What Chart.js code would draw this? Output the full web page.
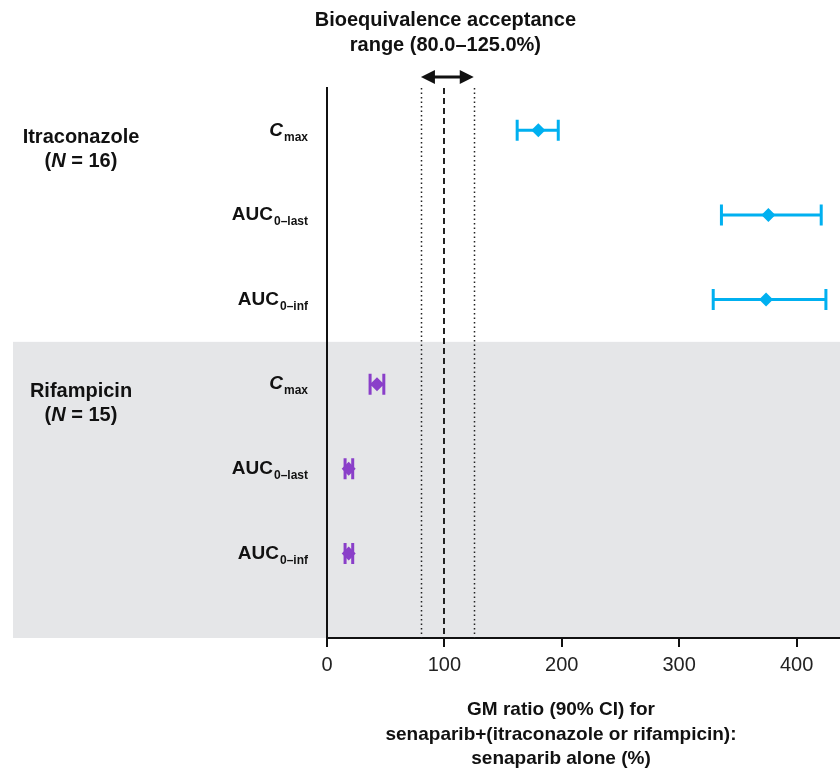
<!DOCTYPE html>
<html>
<head>
<meta charset="utf-8">
<script src="https://cdn.jsdelivr.net/npm/chart.js@4.4.1/dist/chart.umd.min.js"></script>
<style>
  html, body { margin: 0; padding: 0; background: #fff; }
  #wrap { width: 840px; height: 771px; position: relative; }
</style>
</head>
<body>
<div id="wrap"><canvas id="forest"></canvas></div>
<script>
// data
const groups = ["Itraconazole", "Rifampicin"];
const groupN = [16, 15];
const params = [
  { main: "C", sub: "max", italic: true },
  { main: "AUC", sub: "0\u2013last", italic: false },
  { main: "AUC", sub: "0\u2013inf", italic: false },
];
const itraRows = [0.5, 1.5, 2.5];
const itraGM = [180, 376, 374];
const itraLo = [162, 336, 329];
const itraHi = [197, 421, 425];
const rifRows = [3.5, 4.5, 5.5];
const rifGM = [42.6, 18.5, 18.5];
const rifLo = [36.7, 15.4, 15.4];
const rifHi = [48.4, 21.9, 21.9];
const xTicks = [0, 100, 200, 300, 400];
const beLimits = [80, 125];
const beRef = 100;
const xTitle = [
  "GM ratio (90% CI) for",
  "senaparib+(itraconazole or rifampicin):",
  "senaparib alone (%)",
];
const beTitle = ["Bioequivalence acceptance", "range (80.0\u2013125.0%)"];

const FONT = "'Liberation Sans', Arial, sans-serif";
const CYAN = "#00b0f0";
const PURPLE = "#8a3fc9";

function toPoints(rows, gm) {
  return rows.map((r, i) => ({ x: gm[i], y: r }));
}

// label with a subscript, right aligned at xRight
function drawSubLabel(ctx, xRight, y, p) {
  const mainFont = (p.italic ? "italic " : "") + "bold 19px " + FONT;
  const subFont = "bold 12px " + FONT;
  ctx.font = subFont;
  const ws = ctx.measureText(p.sub).width;
  ctx.font = mainFont;
  const wm = ctx.measureText(p.main).width;
  const gap = 1;
  const x0 = xRight - ws - gap - wm;
  ctx.textAlign = "left";
  ctx.textBaseline = "middle";
  ctx.fillText(p.main, x0, y);
  ctx.font = subFont;
  ctx.fillText(p.sub, x0 + wm + gap, y + 7);
}

const forestPlugin = {
  id: "forest",
  beforeDraw(chart) {
    const { ctx, chartArea, scales } = chart;
    const yb = scales.y.getPixelForValue(3);
    ctx.save();
    ctx.fillStyle = "#e5e6e8";
    ctx.fillRect(13, yb, chart.width - 13, chartArea.bottom - yb);
    ctx.restore();
  },
  beforeDatasetsDraw(chart) {
    const { ctx, chartArea, scales } = chart;
    const x = scales.x;
    ctx.save();
    // acceptance range lines
    ctx.strokeStyle = "#222";
    ctx.lineWidth = 1.5;
    ctx.setLineDash([1.5, 3]);
    beLimits.forEach(v => {
      const px = Math.round(x.getPixelForValue(v)) + 0.5;
      ctx.beginPath();
      ctx.moveTo(px, chartArea.top);
      ctx.lineTo(px, chartArea.bottom);
      ctx.stroke();
    });
    ctx.lineWidth = 2;
    ctx.setLineDash([6, 4]);
    const pr = Math.round(x.getPixelForValue(beRef));
    ctx.beginPath();
    ctx.moveTo(pr, chartArea.top);
    ctx.lineTo(pr, chartArea.bottom);
    ctx.stroke();
    ctx.setLineDash([]);

    // error bars
    chart.data.datasets.forEach(ds => {
      ctx.strokeStyle = ds.borderColor;
      ctx.lineWidth = 3;
      ds.data.forEach((pt, i) => {
        const py = scales.y.getPixelForValue(pt.y);
        const xl = x.getPixelForValue(ds.lo[i]);
        const xh = x.getPixelForValue(ds.hi[i]);
        ctx.beginPath();
        ctx.moveTo(xl, py);
        ctx.lineTo(xh, py);
        ctx.moveTo(xl, py - 10.5);
        ctx.lineTo(xl, py + 10.5);
        ctx.moveTo(xh, py - 10.5);
        ctx.lineTo(xh, py + 10.5);
        ctx.stroke();
      });
    });
    ctx.restore();
  },
  afterDraw(chart) {
    const { ctx, scales } = chart;
    const x = scales.x;
    const y = scales.y;
    ctx.save();
    ctx.fillStyle = "#111";

    // acceptance arrow
    const a1 = x.getPixelForValue(beLimits[0]);
    const a2 = x.getPixelForValue(beLimits[1]);
    const ay = 77;
    ctx.strokeStyle = "#111";
    ctx.lineWidth = 3;
    ctx.beginPath();
    ctx.moveTo(a1 + 8, ay);
    ctx.lineTo(a2 - 8, ay);
    ctx.stroke();
    [[a1, 1], [a2, -1]].forEach(([ax, d]) => {
      ctx.beginPath();
      ctx.moveTo(ax, ay);
      ctx.lineTo(ax + d * 14, ay - 7);
      ctx.lineTo(ax + d * 14, ay + 7);
      ctx.closePath();
      ctx.fill();
    });

    // titles
    ctx.font = "bold 20px " + FONT;
    ctx.textAlign = "center";
    ctx.textBaseline = "middle";
    const cx = x.getPixelForValue(beRef);
    ctx.fillText(beTitle[0], cx + 1, 20);
    ctx.fillText(beTitle[1], cx + 1, 45);
    ctx.font = "bold 19px " + FONT;
    xTitle.forEach((t, i) => ctx.fillText(t, 561, 710 + i * 24.5));

    // group labels
    const groupRows = [itraRows, rifRows];
    const gx = 81;
    groups.forEach((g, gi) => {
      const py = y.getPixelForValue(groupRows[gi][0]);
      ctx.font = "bold 20px " + FONT;
      ctx.textAlign = "center";
      ctx.fillText(g, gx, py + 7);
      // "(N = 16)" with italic N
      const pre = "(", nn = "N", post = " = " + groupN[gi] + ")";
      const w1 = ctx.measureText(pre).width;
      const w3 = ctx.measureText(post).width;
      ctx.font = "italic bold 20px " + FONT;
      const w2 = ctx.measureText(nn).width;
      const sx = gx - (w1 + w2 + w3) / 2;
      ctx.textAlign = "left";
      ctx.font = "bold 20px " + FONT;
      ctx.fillText(pre, sx, py + 31);
      ctx.font = "italic bold 20px " + FONT;
      ctx.fillText(nn, sx + w1, py + 31);
      ctx.font = "bold 20px " + FONT;
      ctx.fillText(post, sx + w1 + w2, py + 31);
    });

    // row labels
    const allRows = itraRows.concat(rifRows);
    allRows.forEach((r, i) => {
      drawSubLabel(ctx, 308, y.getPixelForValue(r), params[i % 3]);
    });
    ctx.restore();
  },
};

const ctx = document.getElementById("forest");
new Chart(ctx, {
  type: "scatter",
  data: {
    datasets: [
      {
        label: groups[0],
        data: toPoints(itraRows, itraGM),
        lo: itraLo,
        hi: itraHi,
        backgroundColor: CYAN,
        borderColor: CYAN,
        pointStyle: "rectRot",
        pointRadius: 7,
        borderWidth: 0,
      },
      {
        label: groups[1],
        data: toPoints(rifRows, rifGM),
        lo: rifLo,
        hi: rifHi,
        backgroundColor: PURPLE,
        borderColor: PURPLE,
        pointStyle: "rectRot",
        pointRadius: 7,
        borderWidth: 0,
      },
    ],
  },
  options: {
    responsive: true,
    maintainAspectRatio: false,
    animation: false,
    layout: { autoPadding: false, padding: { top: 88, left: 0, right: 0, bottom: 0 } },
    plugins: {
      legend: { display: false },
      tooltip: { enabled: false },
    },
    scales: {
      x: {
        type: "linear",
        min: 0,
        max: 437,
        afterBuildTicks: s => { s.ticks = xTicks.map(v => ({ value: v })); },
        afterFit: s => { s.height = 133; s.paddingLeft = 0; s.paddingRight = 0; },
        border: { display: true, color: "#111", width: 2 },
        grid: { display: true, drawOnChartArea: false, drawTicks: true, tickLength: 9, color: "#111", lineWidth: 2 },
        ticks: { color: "#222", font: { family: FONT, size: 20 }, padding: 6, maxRotation: 0 },
      },
      y: {
        type: "linear",
        min: 0,
        max: 6.5,
        reverse: true,
        afterFit: s => { s.width = 327; s.paddingTop = 0; s.paddingBottom = 0; },
        border: { display: true, color: "#111", width: 2 },
        grid: { display: false },
        ticks: { display: false },
      },
    },
  },
  plugins: [forestPlugin],
});
</script>
</body>
</html>
